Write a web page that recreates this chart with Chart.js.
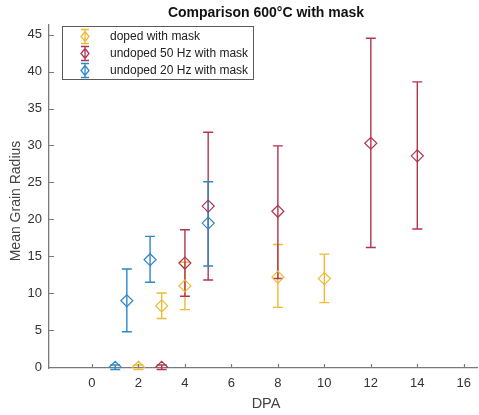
<!DOCTYPE html>
<html lang="en">
<head>
  <meta charset="UTF-8" />
  <title>Comparison 600°C with mask</title>
  <script src="https://cdn.jsdelivr.net/npm/chart.js"></script>
  <style>
    * { margin: 0; padding: 0; box-sizing: border-box; }
    body { background: #ffffff; }
    #wrap { width: 479px; height: 415px; }
  </style>
</head>
<body>
  <div id="wrap"><canvas id="grainChart"></canvas></div>

  <script>
    // values
    const dopedX  = [2, 3, 4, 8, 10];
    const dopedY  = [0, 8.3, 11.0, 12.2, 12.0];
    const dopedLo = [-0.3, 6.6, 7.8, 8.1, 8.75];
    const dopedHi = [0.3, 10.05, 14.2, 16.6, 15.3];

    const u50X  = [3, 4, 5, 8, 12, 14];
    const u50Y  = [0, 14.1, 21.8, 21.1, 30.3, 28.6];
    const u50Lo = [-0.3, 9.6, 11.8, 12.0, 16.2, 18.7];
    const u50Hi = [0.3, 18.6, 31.8, 29.95, 44.5, 38.6];

    const u20X  = [1, 1.5, 2.5, 5];
    const u20Y  = [0, 9.0, 14.55, 19.5];
    const u20Lo = [-0.3, 4.8, 11.5, 13.7];
    const u20Hi = [0.3, 13.3, 17.7, 25.1];

    const seriesLabels = ['doped with mask', 'undoped 50 Hz with mask', 'undoped 20 Hz with mask'];
    const seriesColors = ['#EDBA35', '#B2344F', '#2F87C8'];

    const FONT = 'Arial, "Liberation Sans", sans-serif';
    const AXIS = '#7a7a7a';

    function points(xs, ys, lo, hi) {
      return xs.map((x, i) => ({ x: x, y: ys[i], lo: lo[i], hi: hi[i] }));
    }

    function makeSet(i, data) {
      return {
        label: seriesLabels[i],
        data: data,
        borderColor: seriesColors[i],
        backgroundColor: 'rgba(255,255,255,0)',
        pointStyle: 'rectRot',
        pointRadius: 6,
        pointHoverRadius: 6,
        pointBorderWidth: 1.2,
        showLine: false,
        order: 2 - i
      };
    }

    // error bars, drawn under the markers
    const errorBars = {
      id: 'errorBars',
      beforeDatasetsDraw(chart) {
        const { ctx, scales: { x, y } } = chart;
        chart.data.datasets.forEach(ds => {
          ctx.save();
          ctx.strokeStyle = ds.borderColor;
          ctx.lineWidth = 1.4;
          ds.data.forEach(p => {
            const px = x.getPixelForValue(p.x);
            const top = y.getPixelForValue(p.hi);
            const bot = y.getPixelForValue(p.lo);
            ctx.beginPath();
            ctx.moveTo(px, top); ctx.lineTo(px, bot);
            ctx.moveTo(px - 5, top); ctx.lineTo(px + 5, top);
            ctx.moveTo(px - 5, bot); ctx.lineTo(px + 5, bot);
            ctx.stroke();
          });
          ctx.restore();
        });
      }
    };

    // inward ticks, title, axis labels and legend box
    const decorations = {
      id: 'decorations',
      afterDraw(chart) {
        const { ctx, chartArea: a, scales: { x, y } } = chart;
        ctx.save();
        ctx.strokeStyle = AXIS;
        ctx.lineWidth = 1.2;
        ctx.beginPath();
        x.ticks.forEach(t => {
          const px = Math.round(x.getPixelForValue(t.value)) + 0.5;
          ctx.moveTo(px, a.bottom); ctx.lineTo(px, a.bottom - 4);
        });
        y.ticks.forEach(t => {
          const py = Math.round(y.getPixelForValue(t.value)) + 0.5;
          ctx.moveTo(a.left, py); ctx.lineTo(a.left + 5, py);
        });
        ctx.stroke();

        const cx = 264;
        ctx.fillStyle = '#111';
        ctx.textAlign = 'center';
        ctx.textBaseline = 'middle';
        ctx.font = 'bold 14px ' + FONT;
        ctx.fillText('Comparison 600°C with mask', cx + 2, 13);

        ctx.fillStyle = '#444';
        ctx.font = '14.5px ' + FONT;
        ctx.fillText('DPA', cx + 2, 404);

        ctx.save();
        ctx.translate(16, 201);
        ctx.rotate(-Math.PI / 2);
        ctx.font = '14px ' + FONT;
        ctx.fillText('Mean Grain Radius', 0, 0);
        ctx.restore();

        // legend
        ctx.fillStyle = '#ffffff';
        ctx.fillRect(62.5, 26.5, 191, 53);
        ctx.strokeStyle = '#5a5a5a';
        ctx.lineWidth = 1;
        ctx.strokeRect(62.5, 26.5, 191, 53);
        const rows = [36.5, 53.5, 70.5];
        chart.data.datasets.forEach((ds, i) => {
          const ly = rows[i];
          const lx = 85;
          ctx.strokeStyle = ds.borderColor;
          ctx.lineWidth = 1.3;
          ctx.beginPath();
          ctx.moveTo(lx, ly - 7); ctx.lineTo(lx, ly + 7);
          ctx.moveTo(lx - 4, ly - 7); ctx.lineTo(lx + 4, ly - 7);
          ctx.moveTo(lx - 4, ly + 7); ctx.lineTo(lx + 4, ly + 7);
          ctx.moveTo(lx, ly - 5); ctx.lineTo(lx + 4, ly);
          ctx.lineTo(lx, ly + 5); ctx.lineTo(lx - 4, ly); ctx.closePath();
          ctx.stroke();
          ctx.fillStyle = '#222';
          ctx.textAlign = 'left';
          ctx.font = '12px ' + FONT;
          ctx.fillText(ds.label, 110, ly);
        });
        ctx.restore();
      }
    };

    const ctx = document.getElementById('grainChart').getContext('2d');
    new Chart(ctx, {
      type: 'scatter',
      data: {
        datasets: [
          makeSet(0, points(dopedX, dopedY, dopedLo, dopedHi)),
          makeSet(1, points(u50X, u50Y, u50Lo, u50Hi)),
          makeSet(2, points(u20X, u20Y, u20Lo, u20Hi))
        ]
      },
      options: {
        responsive: true,
        maintainAspectRatio: false,
        animation: false,
        layout: { autoPadding: false, padding: { top: 25, left: 0, right: 0, bottom: 0 } },
        plugins: {
          legend: { display: false },
          tooltip: { enabled: false },
          title: { display: false }
        },
        scales: {
          x: {
            type: 'linear',
            min: -1.85,
            max: 16.6,
            afterFit(scale) { scale.height = 47; },
            grid: { display: false, drawTicks: false },
            border: { display: true, color: AXIS, width: 1.3 },
            ticks: {
              stepSize: 2,
              includeBounds: false,
              padding: 8,
              color: '#333',
              font: { family: FONT, size: 13 },
              maxRotation: 0
            }
          },
          y: {
            type: 'linear',
            min: -0.1,
            max: 46.3,
            afterFit(scale) { scale.width = 49; },
            grid: { display: false, drawTicks: false },
            border: { display: true, color: AXIS, width: 1.3 },
            ticks: {
              stepSize: 5,
              includeBounds: false,
              padding: 7,
              color: '#333',
              font: { family: FONT, size: 13 }
            }
          }
        }
      },
      plugins: [errorBars, decorations]
    });
  </script>
</body>
</html>
